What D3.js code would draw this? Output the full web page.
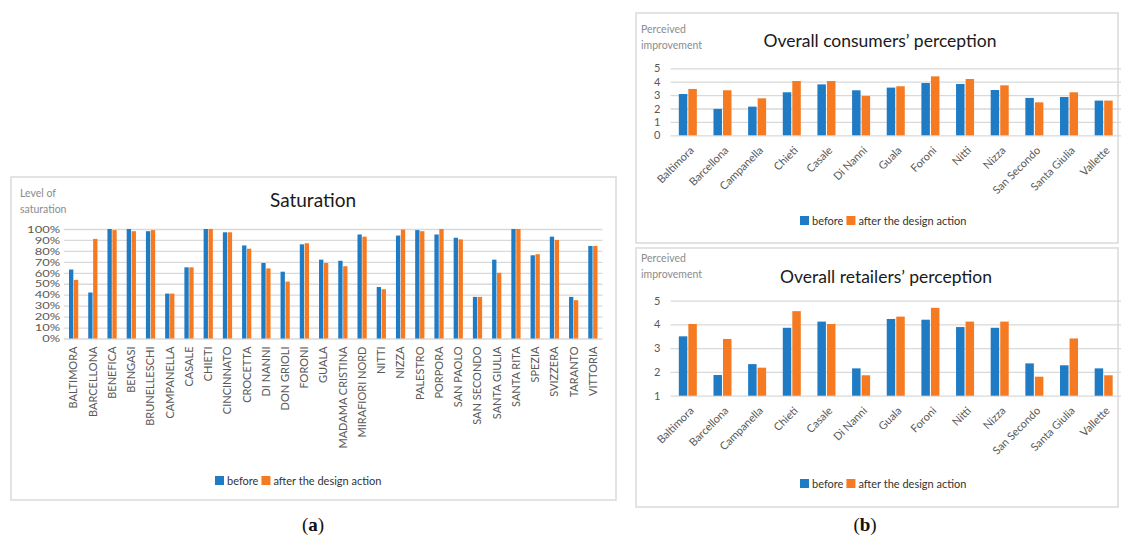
<!DOCTYPE html>
<html>
<head>
<meta charset="utf-8">
<script src="https://cdn.jsdelivr.net/npm/d3@7"></script>
<style>
  body { margin: 0; background: #fff; }
  text { font-family: Lato, "Open Sans", sans-serif; }
</style>
</head>
<body>
<div id="chart"></div>
<script>
// ---- data ----
const satCategories = ["BALTIMORA", "BARCELLONA", "BENEFICA", "BENGASI", "BRUNELLESCHI", "CAMPANELLA",
  "CASALE", "CHIETI", "CINCINNATO", "CROCETTA", "DI NANNI", "DON GRIOLI", "FORONI", "GUALA",
  "MADAMA CRISTINA", "MIRAFIORI NORD", "NITTI", "NIZZA", "PALESTRO", "PORPORA", "SAN PAOLO",
  "SAN SECONDO", "SANTA GIULIA", "SANTA RITA", "SPEZIA", "SVIZZERA", "TARANTO", "VITTORIA"];
const satBefore = [0.63, 0.42, 1.00, 1.00, 0.98, 0.41, 0.65, 1.00, 0.97, 0.85, 0.69, 0.61, 0.86, 0.72,
  0.71, 0.95, 0.47, 0.94, 0.99, 0.95, 0.92, 0.38, 0.72, 1.00, 0.76, 0.93, 0.38, 0.845];
const satAfter = [0.535, 0.91, 0.99, 0.98, 0.99, 0.41, 0.65, 1.00, 0.97, 0.82, 0.64, 0.52, 0.87, 0.69,
  0.66, 0.93, 0.45, 0.995, 0.98, 1.00, 0.905, 0.38, 0.60, 1.00, 0.77, 0.90, 0.35, 0.845];
const satTicks = [0, 0.1, 0.2, 0.3, 0.4, 0.5, 0.6, 0.7, 0.8, 0.9, 1];

const storeCategories = ["Baltimora", "Barcellona", "Campanella", "Chieti", "Casale", "Di Nanni",
  "Guala", "Foroni", "Nitti", "Nizza", "San Secondo", "Santa Giulia", "Vallette"];
const consumersBefore = [3.08, 1.97, 2.14, 3.21, 3.80, 3.36, 3.56, 3.90, 3.83, 3.38, 2.79, 2.86, 2.59];
const consumersAfter  = [3.46, 3.36, 2.76, 4.05, 4.05, 2.94, 3.66, 4.40, 4.20, 3.73, 2.46, 3.21, 2.59];
const consumerTicks = [0, 1, 2, 3, 4, 5];
const retailersBefore = [3.50, 1.87, 2.33, 3.86, 4.12, 2.15, 4.23, 4.20, 3.89, 3.86, 2.36, 2.28, 2.15];
const retailersAfter  = [4.02, 3.39, 2.18, 4.56, 4.02, 1.86, 4.33, 4.70, 4.12, 4.12, 1.80, 3.41, 1.86];
const retailerTicks = [1, 2, 3, 4, 5];

const seriesNames = ["before", "after the design action"];
const colors = ["#1f7bc4", "#f57a22"];

const W = 1126, H = 546;
const svg = d3.select("#chart").append("svg")
  .attr("width", W)
  .attr("height", H);
svg.append("rect").attr("width", W).attr("height", H).attr("fill", "#fff");

// panel frames
[[11, 177, 605, 323], [636, 13, 482, 230], [636, 248, 482, 259]].forEach(b => {
  svg.append("rect")
    .attr("x", b[0]).attr("y", b[1]).attr("width", b[2]).attr("height", b[3])
    .attr("fill", "#fff").attr("stroke", "#dadada").attr("stroke-width", 1.5);
});

function barChart(o) {
  const g = svg.append("g");
  const series = [o.before, o.after];

  const x = d3.scaleBand().domain(o.categories).range([o.left, o.right]);
  const xs = d3.scaleBand().domain([0, 1])
    .range([x.bandwidth() * o.groupFrom, x.bandwidth() * o.groupTo])
    .paddingInner(o.gap);
  const y = d3.scaleLinear().domain(o.domain).range([o.bottom, o.top]);

  // gridlines + y labels
  const yAxis = g.append("g")
    .attr("transform", `translate(${o.left},0)`)
    .call(d3.axisLeft(y).tickValues(o.ticks).tickFormat(o.fmt)
      .tickSize(-(o.right - o.left)).tickPadding(o.yPad));
  yAxis.select(".domain").remove();
  yAxis.selectAll("line").attr("stroke", "#d9d9d9").attr("stroke-width", 1.3);
  yAxis.selectAll("text").attr("fill", "#595959").style("font-size", o.yFont + "px")
    .attr("transform", o.yScale || null);

  // bars
  o.categories.forEach((c, i) => {
    series.forEach((s, k) => {
      g.append("rect")
        .attr("x", x(c) + xs(k))
        .attr("width", xs.bandwidth())
        .attr("y", y(s[i]))
        .attr("height", o.bottom - y(s[i]))
        .attr("fill", colors[k]);
    });
  });

  // x labels
  const xAxis = g.append("g")
    .attr("transform", `translate(0,${o.bottom})`)
    .call(d3.axisBottom(x).tickSize(0));
  xAxis.select(".domain").remove();
  xAxis.selectAll("text")
    .attr("fill", "#595959")
    .style("font-size", o.xFont + "px")
    .attr("text-anchor", "end")
    .attr("x", 0).attr("y", 0).attr("dy", "0.35em")
    .attr("transform", o.xRot);

  // title
  g.append("text")
    .attr("x", o.titleX).attr("y", o.titleY)
    .attr("text-anchor", "middle")
    .attr("fill", "#1a1a1a")
    .style("font-size", o.titleFont + "px")
    .text(o.title);

  // y title
  o.yTitle.forEach((t, j) => {
    g.append("text")
      .attr("x", o.yTitleX).attr("y", o.yTitleY + j * 16)
      .attr("fill", "#8c8c8c")
      .style("font-size", "10.5px")
      .text(t);
  });

  // legend
  const lg = g.append("g").attr("transform", `translate(${o.legendX},${o.legendY})`);
  let lx = 0;
  seriesNames.forEach((n, k) => {
    lg.append("rect").attr("x", lx).attr("y", -5).attr("width", 9).attr("height", 9).attr("fill", colors[k]);
    const t = lg.append("text").attr("x", lx + 12).attr("y", 4)
      .attr("fill", "#333").style("font-size", "11px").text(n);
    lx += 12 + t.node().getComputedTextLength() + 3;
  });
}

barChart({
  categories: satCategories, before: satBefore, after: satAfter,
  left: 64, right: 602.5, top: 229, bottom: 338.5,
  domain: [0, 1], ticks: satTicks, fmt: d3.format(".0%"), yPad: 3, yFont: 10,
  yScale: "scale(1.3,1)",
  groupFrom: 0.26, groupTo: 0.74, gap: 0.12,
  xFont: 11, xRot: "translate(0,8) rotate(-90)",
  title: "Saturation", titleX: 313, titleY: 207, titleFont: 19,
  yTitle: ["Level of", "saturation"], yTitleX: 20, yTitleY: 197,
  legendX: 215, legendY: 481
});

barChart({
  categories: storeCategories, before: consumersBefore, after: consumersAfter,
  left: 670.5, right: 1121, top: 68.3, bottom: 135.3,
  domain: [0, 5], ticks: consumerTicks, fmt: d3.format("d"), yPad: 10, yFont: 11,
  groupFrom: 0.24, groupTo: 0.76, gap: 0.11,
  xFont: 11, xRot: "translate(4,13) rotate(-45)",
  title: "Overall consumers\u2019 perception", titleX: 880, titleY: 47, titleFont: 17.5,
  yTitle: ["Perceived", "improvement"], yTitleX: 641, yTitleY: 33,
  legendX: 800, legendY: 221
});

barChart({
  categories: storeCategories, before: retailersBefore, after: retailersAfter,
  left: 670.5, right: 1121, top: 300.7, bottom: 395.7,
  domain: [1, 5], ticks: retailerTicks, fmt: d3.format("d"), yPad: 10, yFont: 11,
  groupFrom: 0.24, groupTo: 0.76, gap: 0.11,
  xFont: 11, xRot: "translate(4,13) rotate(-45)",
  title: "Overall retailers\u2019 perception", titleX: 886, titleY: 283, titleFont: 17.5,
  yTitle: ["Perceived", "improvement"], yTitleX: 641, yTitleY: 262,
  legendX: 800, legendY: 484
});

// captions
[["a", 313], ["b", 865]].forEach(c => {
  const t = svg.append("text")
    .attr("x", c[1]).attr("y", 531)
    .attr("text-anchor", "middle")
    .style("font-family", "'Liberation Serif', serif")
    .style("font-size", "19px")
    .attr("fill", "#111");
  t.append("tspan").text("(");
  t.append("tspan").attr("font-weight", "bold").text(c[0]);
  t.append("tspan").text(")");
});
</script>
</body>
</html>
